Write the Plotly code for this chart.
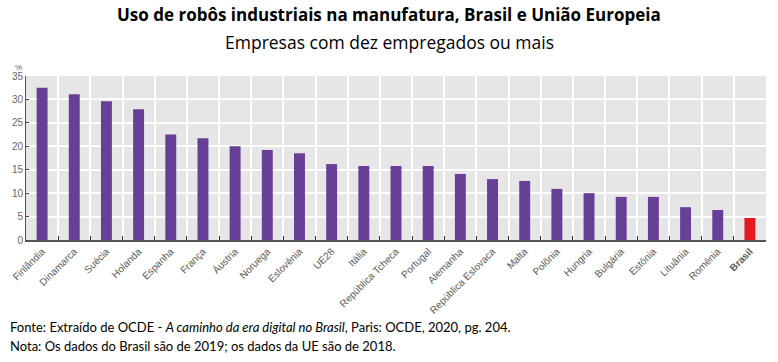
import plotly.graph_objects as go

categories = ["Finlândia", "Dinamarca", "Suécia", "Holanda", "Espanha", "França", "Áustria",
              "Noruega", "Eslovênia", "UE28", "Itália", "República Tcheca", "Portugal",
              "Alemanha", "República Eslovaca", "Malta", "Polônia", "Hungria", "Bulgária",
              "Estônia", "Lituânia", "Romênia", "Brasil"]
values = [32.5, 31.1, 29.6, 27.9, 22.5, 21.7, 20.0, 19.2, 18.5, 16.2, 15.8, 15.8, 15.8,
          14.1, 13.0, 12.6, 10.9, 10.0, 9.2, 9.2, 7.0, 6.4, 4.7]
y_ticks = [0, 5, 10, 15, 20, 25, 30, 35]

colors = ["#e3191f" if c == "Brasil" else "#673f96" for c in categories]
tick_text = ["<b>Brasil</b>" if c == "Brasil" else c for c in categories]

fig = go.Figure(go.Bar(
    x=categories, y=values, marker=dict(color=colors, line=dict(width=0)),
    width=0.34,
))

H, T, B, L, R = 362, 76, 122, 26, 12
fig.update_layout(
    width=778, height=362,
    margin=dict(l=L, r=R, t=T, b=B),
    paper_bgcolor="white", plot_bgcolor="#e6e6e6",
    showlegend=False,
    font=dict(family="Liberation Sans, Arial", color="#555555"),
)
fig.update_xaxes(
    tickmode="array", tickvals=categories, ticktext=tick_text,
    tickangle=-45, tickfont=dict(size=10, color="#5a5a5a", family="Liberation Sans Narrow, Liberation Sans, Arial"),
    tickson="boundaries", ticks="inside", ticklen=4, tickcolor="#333333",
    showgrid=True, gridcolor="white", gridwidth=1.5,
    showline=True, linecolor="#555555", linewidth=1.5,
    range=[-0.5, len(categories) - 0.5], automargin=False,
)
fig.update_yaxes(
    range=[0, 35], tickvals=y_ticks, ticks="inside", ticklen=3, tickcolor="#444444",
    tickfont=dict(size=10, color="#666666"),
    showgrid=True, gridcolor="white", gridwidth=1.5,
    showline=True, linecolor="#555555", linewidth=1, zeroline=False, automargin=False,
)

ph = H - T - B
pw = 778 - L - R
def py(ypix):
    return (H - B - ypix) / ph
def px(xpix):
    return (xpix - L) / pw

fig.add_annotation(text="<b>Uso de robôs industriais na manufatura, Brasil e União Europeia</b>",
                   xref="paper", yref="paper", x=px(389), y=py(15), yanchor="middle", showarrow=False,
                   font=dict(size=17, color="black", family="Open Sans, Lato"))
fig.add_annotation(text="Empresas com dez empregados ou mais",
                   xref="paper", yref="paper", x=px(389), y=py(42), yanchor="middle", showarrow=False,
                   font=dict(size=17.5, color="black", family="Open Sans, Lato"))
fig.add_annotation(text="%", xref="paper", yref="paper", x=px(13), y=py(67), yanchor="middle",
                   showarrow=False, font=dict(size=8, color="#666666"))
fig.add_annotation(text="Fonte: Extraído de OCDE - <i>A caminho da era digital no Brasil</i>, Paris: OCDE, 2020, pg. 204.",
                   xref="paper", yref="paper", x=px(8), y=py(327), yanchor="middle", xanchor="left",
                   showarrow=False, font=dict(size=13, color="black", family="Lato, Open Sans"))
fig.add_annotation(text="Nota: Os dados do Brasil são de 2019; os dados da UE são de 2018.",
                   xref="paper", yref="paper", x=px(8), y=py(346), yanchor="middle", xanchor="left",
                   showarrow=False, font=dict(size=13, color="black", family="Lato, Open Sans"))

fig.write_html("out.html", config={"displayModeBar": False},
               post_script="document.body.style.margin='0';document.body.style.overflow='hidden';")
